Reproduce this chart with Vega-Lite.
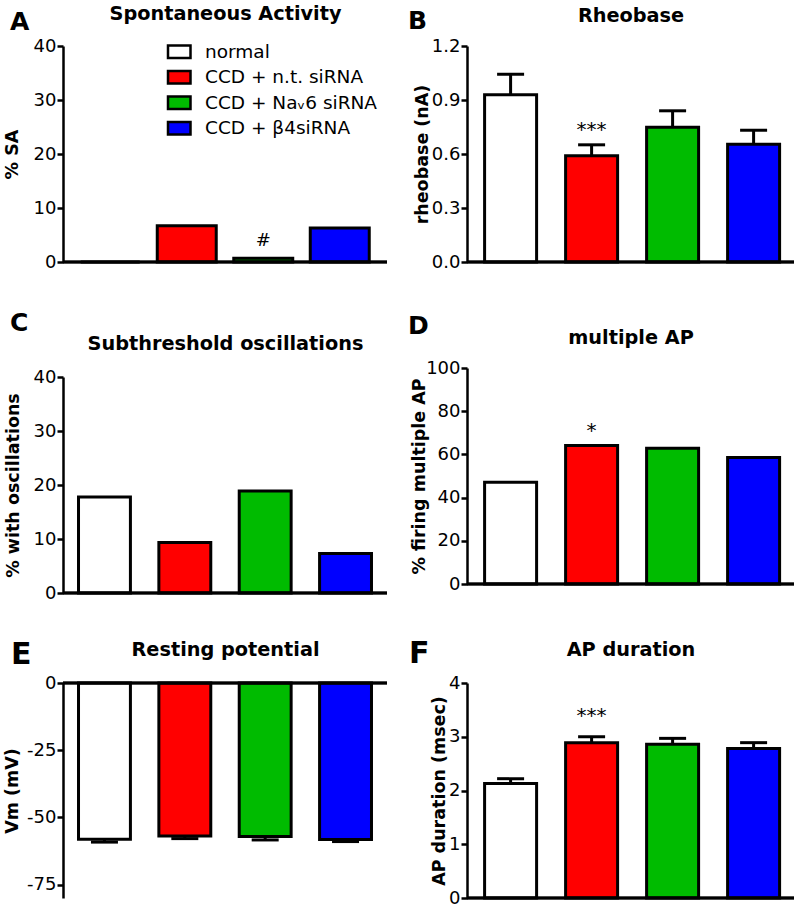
{
  "$schema": "https://vega.github.io/schema/vega-lite/v6.json",
  "background": "white",
  "padding": {"left": 3, "top": 4, "right": 0, "bottom": 0},
  "config": {
    "font": "DejaVu Sans",
    "view": {"stroke": null},
    "axis": {
      "grid": false,
      "domainColor": "black", "domainWidth": 2.5,
      "tickColor": "black", "tickWidth": 2.5, "tickSize": 6,
      "labelFont": "DejaVu Sans", "labelFontSize": 18, "labelColor": "black", "labelPadding": 1,
      "titleFont": "DejaVu Sans", "titleFontSize": 17.5, "titleFontWeight": "bold", "titleColor": "black"
    },
    "title": {"font": "DejaVu Sans", "fontSize": 25, "fontWeight": "bold", "color": "black", "anchor": "start", "frame": "group", "baseline": "alphabetic"}
  },
  "datasets": {
    "A": [
      {"group": "normal", "mean": 0, "sig": ""},
      {"group": "CCD + n.t. siRNA", "mean": 6.7, "sig": ""},
      {"group": "CCD + Naᵥ6 siRNA", "mean": 0.7, "sig": "#"},
      {"group": "CCD + β4siRNA", "mean": 6.3, "sig": ""}
    ],
    "B": [
      {"group": "normal", "mean": 0.929, "errEnd": 1.043, "sig": ""},
      {"group": "CCD + n.t. siRNA", "mean": 0.59, "errEnd": 0.651, "sig": "***"},
      {"group": "CCD + Naᵥ6 siRNA", "mean": 0.749, "errEnd": 0.84, "sig": ""},
      {"group": "CCD + β4siRNA", "mean": 0.654, "errEnd": 0.732, "sig": ""}
    ],
    "C": [
      {"group": "normal", "mean": 17.8},
      {"group": "CCD + n.t. siRNA", "mean": 9.35},
      {"group": "CCD + Naᵥ6 siRNA", "mean": 18.9},
      {"group": "CCD + β4siRNA", "mean": 7.3}
    ],
    "D": [
      {"group": "normal", "mean": 47.1, "sig": ""},
      {"group": "CCD + n.t. siRNA", "mean": 64.1, "sig": "*"},
      {"group": "CCD + Naᵥ6 siRNA", "mean": 62.9, "sig": ""},
      {"group": "CCD + β4siRNA", "mean": 58.6, "sig": ""}
    ],
    "E": [
      {"group": "normal", "mean": -58.1, "errEnd": -59.2},
      {"group": "CCD + n.t. siRNA", "mean": -56.9, "errEnd": -57.9},
      {"group": "CCD + Naᵥ6 siRNA", "mean": -57.1, "errEnd": -58.4},
      {"group": "CCD + β4siRNA", "mean": -58.2, "errEnd": -59.0}
    ],
    "F": [
      {"group": "normal", "mean": 2.13, "errEnd": 2.22, "sig": ""},
      {"group": "CCD + n.t. siRNA", "mean": 2.89, "errEnd": 3.0, "sig": "***"},
      {"group": "CCD + Naᵥ6 siRNA", "mean": 2.86, "errEnd": 2.97, "sig": ""},
      {"group": "CCD + β4siRNA", "mean": 2.78, "errEnd": 2.89, "sig": ""}
    ]
  },
  "spacing": 19,
  "resolve": {"scale": {"x": "independent", "y": "independent", "fill": "independent"}, "legend": {"fill": "independent"}},
  "hconcat": [
    {
      "spacing": 38,
      "resolve": {"scale": {"x": "independent", "y": "independent", "fill": "independent"}, "legend": {"fill": "independent"}},
      "vconcat": [
        {
          "width": 324, "height": 216,
          "data": {"name": "A"},
          "title": {"text": "A", "dx": -53, "offset": -31},
          "layer": [
            {
              "mark": {"type": "bar", "stroke": "black", "strokeWidth": 3},
              "encoding": {
                "x": {"field": "group", "type": "nominal", "sort": null,
                  "scale": {"domain": ["normal", "CCD + n.t. siRNA", "CCD + Naᵥ6 siRNA", "CCD + β4siRNA"], "paddingInner": 0.229, "paddingOuter": 0.232},
                  "axis": {"orient": "top", "title": "Spontaneous Activity", "labels": false, "ticks": false, "domain": false, "titleFontSize": 19.3, "titlePadding": 27, "titleBaseline": "alphabetic"}},
                "y": {"field": "mean", "type": "quantitative", "scale": {"domain": [0, 40]},
                  "axis": {"title": "% SA", "values": [0, 10, 20, 30, 40], "titlePadding": 12}},
                "fill": {"field": "group", "type": "nominal",
                  "scale": {"domain": ["normal", "CCD + n.t. siRNA", "CCD + Naᵥ6 siRNA", "CCD + β4siRNA"], "range": ["#ffffff", "#ff0000", "#00bb00", "#0000ff"]},
                  "legend": {"orient": "none", "legendX": 107, "legendY": -3.5, "title": null,
                    "symbolType": "M-1.8,-1H1.8V1H-1.8Z", "symbolSize": 156.25, "symbolStrokeColor": "black", "symbolStrokeWidth": 2.5, "symbolOpacity": 1,
                    "labelFont": "DejaVu Sans", "labelFontSize": 18.5, "labelColor": "black", "labelOffset": 16.5, "labelLimit": 400, "rowPadding": 2.5}}
              }
            },
            {"mark": {"type": "rule", "strokeWidth": 2.5, "color": "black"}, "encoding": {"y": {"datum": 0}}},
            {
              "transform": [{"filter": "datum.sig"}],
              "mark": {"type": "text", "fontSize": 18, "color": "black", "baseline": "middle", "align": "center", "dy": -17},
              "encoding": {
                "x": {"field": "group", "type": "nominal", "sort": null},
                "y": {"field": "mean", "type": "quantitative"},
                "text": {"field": "sig"}
              }
            }
          ]
        },
        {
          "width": 324, "height": 216,
          "data": {"name": "C"},
          "title": {"text": ["", "C"], "lineHeight": 1.5, "dx": -53, "offset": -2},
          "layer": [
            {
              "mark": {"type": "bar", "stroke": "black", "strokeWidth": 3},
              "encoding": {
                "x": {"field": "group", "type": "nominal", "sort": null,
                  "scale": {"domain": ["normal", "CCD + n.t. siRNA", "CCD + Naᵥ6 siRNA", "CCD + β4siRNA"], "paddingInner": 0.354, "paddingOuter": 0.193},
                  "axis": {"orient": "top", "title": "Subthreshold oscillations", "labels": false, "ticks": false, "domain": false, "titleFontSize": 19.3, "titlePadding": 28, "titleBaseline": "alphabetic"}},
                "y": {"field": "mean", "type": "quantitative", "scale": {"domain": [0, 40]},
                  "axis": {"title": "% with oscillations", "values": [0, 10, 20, 30, 40], "titlePadding": 11}},
                "fill": {"field": "group", "type": "nominal",
                  "scale": {"domain": ["normal", "CCD + n.t. siRNA", "CCD + Naᵥ6 siRNA", "CCD + β4siRNA"], "range": ["#ffffff", "#ff0000", "#00bb00", "#0000ff"]},
                  "legend": null}
              }
            },
            {"mark": {"type": "rule", "strokeWidth": 2.5, "color": "black"}, "encoding": {"y": {"datum": 0}}}
          ]
        },
        {
          "width": 324, "height": 215,
          "data": {"name": "E"},
          "title": {"text": "E", "dx": -52, "offset": -30, "fontSize": 30},
          "layer": [
            {
              "mark": {"type": "bar", "stroke": "black", "strokeWidth": 3},
              "encoding": {
                "x": {"field": "group", "type": "nominal", "sort": null,
                  "scale": {"domain": ["normal", "CCD + n.t. siRNA", "CCD + Naᵥ6 siRNA", "CCD + β4siRNA"], "paddingInner": 0.354, "paddingOuter": 0.193},
                  "axis": {"orient": "top", "title": "Resting potential", "labels": false, "ticks": false, "domain": false, "titleFontSize": 19.3, "titlePadding": 28, "titleBaseline": "alphabetic"}},
                "y": {"field": "mean", "type": "quantitative", "scale": {"domain": [-75, 0]},
                  "axis": {"title": "Vm (mV)", "values": [-75, -50, -25, 0], "labelExpr": "toString(datum.value)", "titlePadding": 5}},
                "fill": {"field": "group", "type": "nominal",
                  "scale": {"domain": ["normal", "CCD + n.t. siRNA", "CCD + Naᵥ6 siRNA", "CCD + β4siRNA"], "range": ["#ffffff", "#ff0000", "#00bb00", "#0000ff"]},
                  "legend": null}
              }
            },
            {
              "mark": {"type": "rule", "strokeWidth": 3, "color": "black"},
              "encoding": {
                "x": {"field": "group", "type": "nominal", "sort": null},
                "y": {"field": "mean", "type": "quantitative"},
                "y2": {"field": "errEnd"}
              }
            },
            {
              "mark": {"type": "tick", "orient": "horizontal", "size": 27, "thickness": 3, "color": "black", "opacity": 1},
              "encoding": {
                "x": {"field": "group", "type": "nominal", "sort": null},
                "y": {"field": "errEnd", "type": "quantitative"}
              }
            },
            {"mark": {"type": "rule", "strokeWidth": 2.5, "color": "black"}, "encoding": {"y": {"datum": 0}}}
          ]
        }
      ]
    },
    {
      "spacing": 43,
      "resolve": {"scale": {"x": "independent", "y": "independent", "fill": "independent"}, "legend": {"fill": "independent"}},
      "vconcat": [
        {
          "width": 327, "height": 216,
          "data": {"name": "B"},
          "title": {"text": "B", "dx": -59, "offset": -28},
          "layer": [
            {
              "mark": {"type": "bar", "stroke": "black", "strokeWidth": 3},
              "encoding": {
                "x": {"field": "group", "type": "nominal", "sort": null,
                  "scale": {"domain": ["normal", "CCD + n.t. siRNA", "CCD + Naᵥ6 siRNA", "CCD + β4siRNA"], "paddingInner": 0.358, "paddingOuter": 0.1975, "align": 0.55},
                  "axis": {"orient": "top", "title": "Rheobase", "labels": false, "ticks": false, "domain": false, "titleFontSize": 19.3, "titlePadding": 25, "titleBaseline": "alphabetic"}},
                "y": {"field": "mean", "type": "quantitative", "scale": {"domain": [0, 1.2]},
                  "axis": {"title": "rheobase (nA)", "values": [0, 0.3, 0.6, 0.9, 1.2], "format": ".1f", "titlePadding": 0}},
                "fill": {"field": "group", "type": "nominal",
                  "scale": {"domain": ["normal", "CCD + n.t. siRNA", "CCD + Naᵥ6 siRNA", "CCD + β4siRNA"], "range": ["#ffffff", "#ff0000", "#00bb00", "#0000ff"]},
                  "legend": null}
              }
            },
            {
              "mark": {"type": "rule", "strokeWidth": 3, "color": "black"},
              "encoding": {
                "x": {"field": "group", "type": "nominal", "sort": null},
                "y": {"field": "mean", "type": "quantitative"},
                "y2": {"field": "errEnd"}
              }
            },
            {
              "mark": {"type": "tick", "orient": "horizontal", "size": 27, "thickness": 3, "color": "black", "opacity": 1},
              "encoding": {
                "x": {"field": "group", "type": "nominal", "sort": null},
                "y": {"field": "errEnd", "type": "quantitative"}
              }
            },
            {"mark": {"type": "rule", "strokeWidth": 2.5, "color": "black"}, "encoding": {"y": {"datum": 0}}},
            {
              "transform": [{"filter": "datum.sig"}],
              "mark": {"type": "text", "fontSize": 20, "color": "black", "baseline": "middle", "align": "center", "dy": -26},
              "encoding": {
                "x": {"field": "group", "type": "nominal", "sort": null},
                "y": {"field": "mean", "type": "quantitative"},
                "text": {"field": "sig"}
              }
            }
          ]
        },
        {
          "width": 327, "height": 216,
          "data": {"name": "D"},
          "title": {"text": "D", "dx": -59, "offset": -11},
          "layer": [
            {
              "mark": {"type": "bar", "stroke": "black", "strokeWidth": 3},
              "encoding": {
                "x": {"field": "group", "type": "nominal", "sort": null,
                  "scale": {"domain": ["normal", "CCD + n.t. siRNA", "CCD + Naᵥ6 siRNA", "CCD + β4siRNA"], "paddingInner": 0.358, "paddingOuter": 0.1975, "align": 0.55},
                  "axis": {"orient": "top", "title": "multiple AP", "labels": false, "ticks": false, "domain": false, "titleFontSize": 19.3, "titlePadding": 25, "titleBaseline": "alphabetic"}},
                "y": {"field": "mean", "type": "quantitative", "scale": {"domain": [0, 100]},
                  "axis": {"title": "% firing multiple  AP", "values": [0, 20, 40, 60, 80, 100], "titlePadding": -3}},
                "fill": {"field": "group", "type": "nominal",
                  "scale": {"domain": ["normal", "CCD + n.t. siRNA", "CCD + Naᵥ6 siRNA", "CCD + β4siRNA"], "range": ["#ffffff", "#ff0000", "#00bb00", "#0000ff"]},
                  "legend": null}
              }
            },
            {"mark": {"type": "rule", "strokeWidth": 2.5, "color": "black"}, "encoding": {"y": {"datum": 0}}},
            {
              "transform": [{"filter": "datum.sig"}],
              "mark": {"type": "text", "fontSize": 20, "color": "black", "baseline": "middle", "align": "center", "dy": -15},
              "encoding": {
                "x": {"field": "group", "type": "nominal", "sort": null},
                "y": {"field": "mean", "type": "quantitative"},
                "text": {"field": "sig"}
              }
            }
          ]
        },
        {
          "width": 327, "height": 215,
          "data": {"name": "F"},
          "title": {"text": ["", "F"], "lineHeight": 3, "dx": -58, "offset": -32, "fontSize": 30},
          "layer": [
            {
              "mark": {"type": "bar", "stroke": "black", "strokeWidth": 3},
              "encoding": {
                "x": {"field": "group", "type": "nominal", "sort": null,
                  "scale": {"domain": ["normal", "CCD + n.t. siRNA", "CCD + Naᵥ6 siRNA", "CCD + β4siRNA"], "paddingInner": 0.358, "paddingOuter": 0.1975, "align": 0.55},
                  "axis": {"orient": "top", "title": ["", "AP duration"], "titleLineHeight": 3, "labels": false, "ticks": false, "domain": false, "titleFontSize": 19.3, "titlePadding": 28, "titleBaseline": "alphabetic"}},
                "y": {"field": "mean", "type": "quantitative", "scale": {"domain": [0, 4]},
                  "axis": {"title": "AP duration (msec)", "values": [0, 1, 2, 3, 4], "format": "d", "titlePadding": 0}},
                "fill": {"field": "group", "type": "nominal",
                  "scale": {"domain": ["normal", "CCD + n.t. siRNA", "CCD + Naᵥ6 siRNA", "CCD + β4siRNA"], "range": ["#ffffff", "#ff0000", "#00bb00", "#0000ff"]},
                  "legend": null}
              }
            },
            {
              "mark": {"type": "rule", "strokeWidth": 3, "color": "black"},
              "encoding": {
                "x": {"field": "group", "type": "nominal", "sort": null},
                "y": {"field": "mean", "type": "quantitative"},
                "y2": {"field": "errEnd"}
              }
            },
            {
              "mark": {"type": "tick", "orient": "horizontal", "size": 27, "thickness": 3, "color": "black", "opacity": 1},
              "encoding": {
                "x": {"field": "group", "type": "nominal", "sort": null},
                "y": {"field": "errEnd", "type": "quantitative"}
              }
            },
            {"mark": {"type": "rule", "strokeWidth": 2.5, "color": "black"}, "encoding": {"y": {"datum": 0}}},
            {
              "transform": [{"filter": "datum.sig"}],
              "mark": {"type": "text", "fontSize": 20, "color": "black", "baseline": "middle", "align": "center", "dy": -27},
              "encoding": {
                "x": {"field": "group", "type": "nominal", "sort": null},
                "y": {"field": "mean", "type": "quantitative"},
                "text": {"field": "sig"}
              }
            }
          ]
        }
      ]
    }
  ]
}
